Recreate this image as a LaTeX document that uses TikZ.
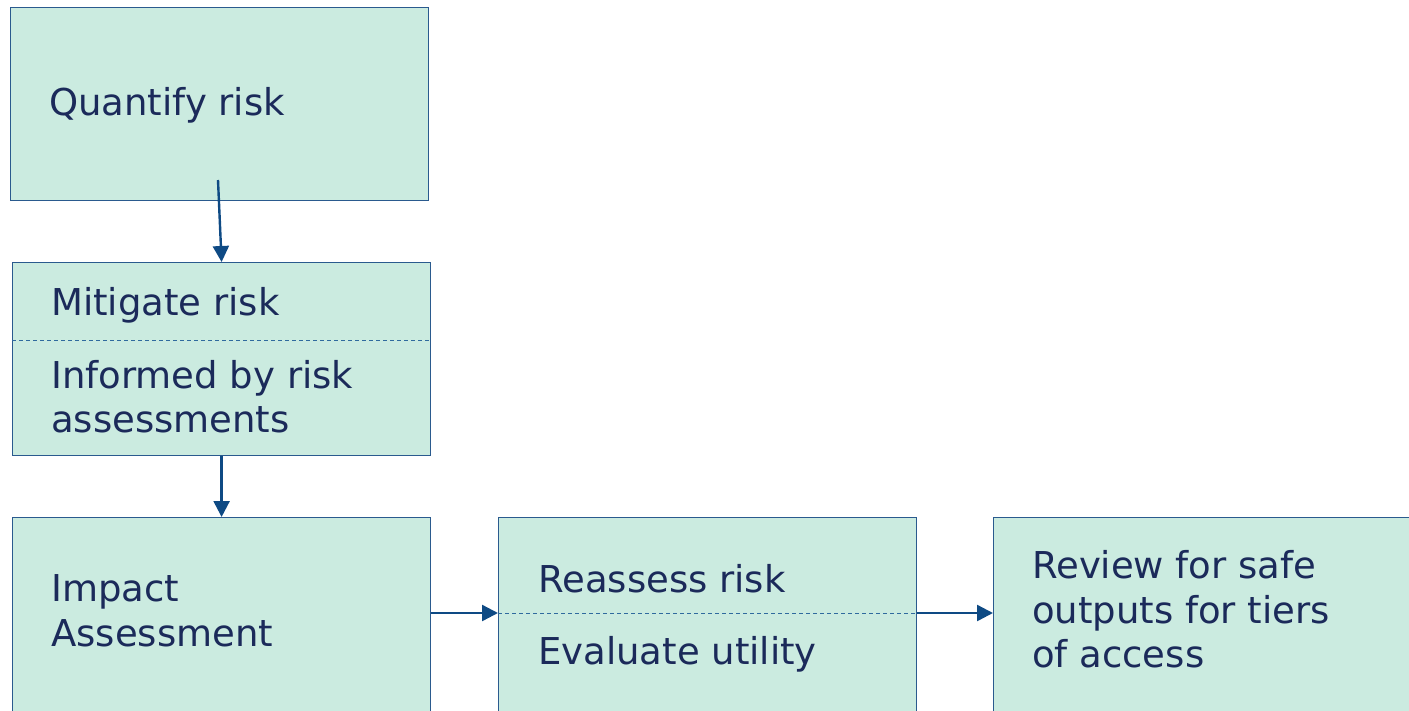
\documentclass[tikz,border=0pt]{standalone}
\usepackage{fontspec}
\setmainfont{DejaVu Sans}
\usetikzlibrary{arrows.meta}
\definecolor{boxfill}{HTML}{CBEBE0}
\definecolor{boxedge}{HTML}{2A5A8E}
\definecolor{arrowblue}{HTML}{0E4A84}
\definecolor{dashblue}{HTML}{2F6A9E}
\definecolor{textnavy}{HTML}{1B2A5A}
\tikzset{
  stepbox/.style={draw=boxedge, fill=boxfill, line width=1.2pt, anchor=north west, inner sep=0pt},
  flow/.style={draw=arrowblue, line width=2.4pt, -{Triangle[length=16pt,width=16pt]}},
  divider/.style={draw=dashblue, line width=1pt, dash pattern=on 4pt off 3pt},
  label/.style={anchor=base west, inner sep=0pt, text=textnavy, font=\fontsize{37}{44}\selectfont},
}
\begin{document}
\begin{tikzpicture}[x=1pt, y=-1pt]
\useasboundingbox (0,0) rectangle (1409,710);
\clip (0,0) rectangle (1409,710);

% boxes
\node[stepbox, minimum width=418pt, minimum height=193pt] (quant) at (10,7) {};
\node[stepbox, minimum width=418pt, minimum height=193pt] (mitig) at (12,262) {};
\node[stepbox, minimum width=418pt, minimum height=200pt] (impact) at (12,517) {};
\node[stepbox, minimum width=418pt, minimum height=200pt] (reass) at (498,517) {};
\node[stepbox, minimum width=430pt, minimum height=200pt] (review) at (993,517) {};

% dividers inside the two-part boxes
\draw[divider] (mitig.west |- 0,340) -- (mitig.east |- 0,340);
\draw[divider] (reass.west |- 0,613) -- (reass.east |- 0,613);

% texts
\node[label] (tq) at (49,115) {Quantify risk};
\node[label] (tm) at (51,315) {Mitigate risk};
\node[label] (ti1) at (51,388) {Informed by risk};
\node[label] (ti2) at (51,432) {assessments};
\node[label] (tim1) at (51,601) {Impact};
\node[label] (tim2) at (51,646) {Assessment};
\node[label] (tr) at (538,592) {Reassess risk};
\node[label] (te) at (538,664) {Evaluate utility};
\node[label] (tv1) at (1032,578) {Review for safe};
\node[label] (tv2) at (1032,623) {outputs for tiers};
\node[label] (tv3) at (1032,667) {of access};

% connectors
\coordinate (qstart) at (218,180);
\draw[flow] (qstart) -- (mitig.north);
\draw[flow] (mitig.south) -- (impact.north);
\draw[flow] (impact.east |- 0,613) -- (reass.west |- 0,613);
\draw[flow] (reass.east |- 0,613) -- (review.west |- 0,613);
\end{tikzpicture}
\end{document}
